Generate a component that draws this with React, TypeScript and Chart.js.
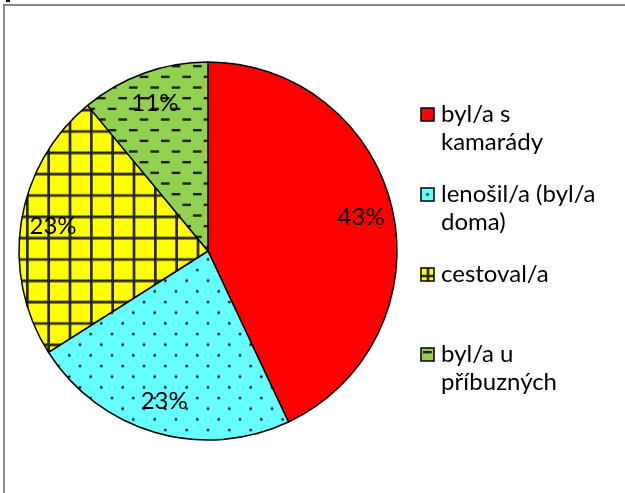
import React, { useEffect, useRef } from "react";
import { Chart, registerables } from "chart.js";
Chart.register(...registerables);

const categories = ["byl/a s kamarády", "lenošil/a (byl/a doma)", "cestoval/a", "byl/a u příbuzných"];
const values = [43, 23, 23, 11];
const baseColors = ["#FF0000", "#66FFFF", "#FFFF00", "#92D050"];
const patternKinds = ["solid", "dots", "grid", "dashes"];

const FONT = "Lato, 'Open Sans', sans-serif";
const TILE = 64;
const PERIOD = 64 / 3;

function makeTile(kind: string, base: string): HTMLCanvasElement {
  const c = document.createElement("canvas");
  c.width = TILE;
  c.height = TILE;
  const g = c.getContext("2d")!;
  g.fillStyle = base;
  g.fillRect(0, 0, TILE, TILE);
  g.fillStyle = "#1e1e1e";
  g.strokeStyle = "#262626";
  const P = PERIOD;
  if (kind === "dots") {
    for (let i = -1; i <= 3; i++)
      for (let j = -1; j <= 3; j++)
        for (const [ox, oy] of [[0, 0], [P / 2, P / 2]]) {
          g.beginPath();
          g.arc(i * P + ox + P / 4, j * P + oy + P / 4, 1.4, 0, Math.PI * 2);
          g.fill();
        }
  } else if (kind === "grid") {
    g.lineWidth = 2.7;
    for (let k = 0; k <= 3; k++) {
      const p = k * P;
      g.beginPath();
      g.moveTo(p, 0);
      g.lineTo(p, TILE);
      g.stroke();
      g.beginPath();
      g.moveTo(0, p);
      g.lineTo(TILE, p);
      g.stroke();
    }
  } else if (kind === "dashes") {
    for (let i = -1; i <= 3; i++)
      for (let j = -1; j <= 3; j++) {
        g.fillRect(i * P + 1, j * P + 1, P / 2 - 2, 2.4);
        g.fillRect(i * P + P / 2 + 1, j * P + P / 2 + 1, P / 2 - 2, 2.4);
      }
  }
  return c;
}

const phase: Record<string, [number, number]> = { dots: [0, 8.7], grid: [6, 3.5], dashes: [0, 0] };

function makeFill(ctx: CanvasRenderingContext2D, kind: string, base: string): string | CanvasPattern {
  if (kind === "solid") return base;
  const pat = ctx.createPattern(makeTile(kind, base), "repeat")!;
  const [dx, dy] = phase[kind];
  pat.setTransform(new DOMMatrix().translate(dx, dy));
  return pat;
}

function wrap(ctx: CanvasRenderingContext2D, text: string, maxW: number): string[] {
  const words = text.split(" ");
  const lines: string[] = [];
  let cur = "";
  for (const w of words) {
    const t = cur ? cur + " " + w : w;
    if (cur && ctx.measureText(t).width > maxW) {
      lines.push(cur);
      cur = w;
    } else cur = t;
  }
  if (cur) lines.push(cur);
  return lines;
}

const extras = {
  id: "pieExtras",
  afterDatasetsDraw(chart: any) {
    const ctx: CanvasRenderingContext2D = chart.ctx;
    const meta = chart.getDatasetMeta(0);
    const data: number[] = chart.data.datasets[0].data;
    const total = data.reduce((a, b) => a + b, 0);
    ctx.save();
    ctx.font = `24px ${FONT}`;
    ctx.fillStyle = "#000";
    ctx.textAlign = "center";
    ctx.textBaseline = "middle";
    meta.data.forEach((arc: any, i: number) => {
      const { x, y, startAngle, endAngle, outerRadius } = arc.getProps(
        ["x", "y", "startAngle", "endAngle", "outerRadius"],
        true
      );
      const a = (startAngle + endAngle) / 2;
      const r = outerRadius * 0.83;
      ctx.fillText(Math.round((data[i] / total) * 100) + "%", x + Math.cos(a) * r, y + Math.sin(a) * r);
    });
    ctx.restore();
  },
  afterDraw(chart: any) {
    const ctx: CanvasRenderingContext2D = chart.ctx;
    const labels: string[] = chart.data.labels;
    const boxX = chart.chartArea.right + 23;
    const textX = boxX + 20;
    const firstBase = 122;
    const step = 80;
    const lineH = 28;
    ctx.save();
    ctx.font = `24px ${FONT}`;
    ctx.textAlign = "left";
    ctx.textBaseline = "alphabetic";
    labels.forEach((lab, i) => {
      const base = firstBase + i * step;
      const bx = boxX;
      const by = base - 14;
      const s = 13;
      const kind = patternKinds[i];
      ctx.fillStyle = baseColors[i];
      ctx.fillRect(bx, by, s, s);
      if (kind !== "solid") {
        const pat = ctx.createPattern(makeTile(kind, baseColors[i]), "repeat")!;
        let ox = bx, oy = by;
        if (kind === "dots") { ox = bx + 6.5 - PERIOD / 4; oy = by + 6.5 - PERIOD / 4; }
        if (kind === "grid") { ox = bx + 7; oy = by + 8; }
        if (kind === "dashes") { ox = bx + 1; oy = by + 2; }
        pat.setTransform(new DOMMatrix().translate(ox, oy));
        ctx.fillStyle = pat;
        ctx.fillRect(bx, by, s, s);
      }
      ctx.strokeStyle = "#000";
      ctx.lineWidth = 1.5;
      ctx.strokeRect(bx, by, s, s);
      ctx.fillStyle = "#000";
      const lines = wrap(ctx, lab, 170);
      lines.forEach((ln, k) => ctx.fillText(ln, textX, base + k * lineH));
    });
    ctx.restore();
  },
};

export default function App() {
  const ref = useRef<HTMLCanvasElement | null>(null);
  useEffect(() => {
    const canvas = ref.current!;
    const ctx = canvas.getContext("2d")!;
    const fills = patternKinds.map((k, i) => makeFill(ctx, k, baseColors[i]));
    const chart = new Chart(canvas, {
      type: "pie",
      data: {
        labels: categories,
        datasets: [
          {
            data: values,
            backgroundColor: fills as any,
            borderColor: "#000",
            borderWidth: 1.5,
            hoverOffset: 0,
            offset: 0,
          },
        ],
      },
      options: {
        animation: false,
        responsive: false,
        devicePixelRatio: 1,
        radius: 189,
        layout: { padding: { left: 18, right: 227, top: 62, bottom: 53 } },
        plugins: { legend: { display: false }, tooltip: { enabled: false } },
        events: [],
      } as any,
      plugins: [extras],
    });
    return () => chart.destroy();
  }, []);
  return (
    <div style={{ position: "fixed", left: 0, top: 0, width: 625, height: 493, background: "#fff", overflow: "hidden" }}>
      <div style={{ position: "absolute", left: 6, top: 0, width: 4, height: 2, background: "#000" }} />
      <div
        style={{
          position: "absolute",
          left: 3,
          top: 4,
          width: 700,
          height: 600,
          borderLeft: "2px solid #8a8a8a",
          borderTop: "2px solid #8a8a8a",
        }}
      />
      <canvas ref={ref} width={625} height={493} style={{ position: "absolute", left: 0, top: 0 }} />
    </div>
  );
}
